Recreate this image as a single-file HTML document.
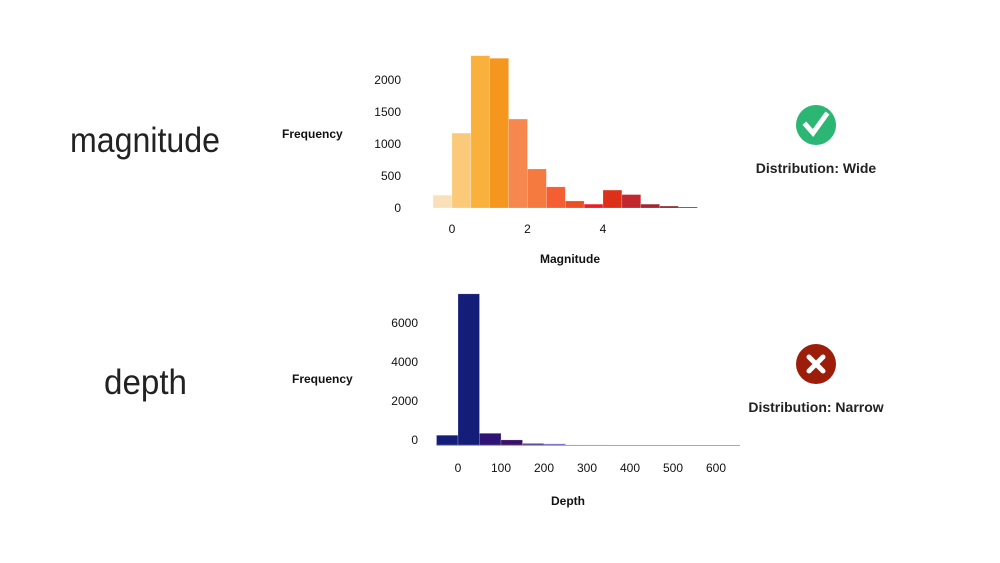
<!DOCTYPE html>
<html><head><meta charset="utf-8"><style>
html,body{margin:0;padding:0;background:#fff;}
svg{display:block;font-family:"Liberation Sans",Arial,sans-serif;}
</style></head><body>
<svg id="s" width="1000" height="563" viewBox="0 0 1000 563" xmlns="http://www.w3.org/2000/svg">
<text x="70" y="152" font-size="35" fill="#222" textLength="150" lengthAdjust="spacingAndGlyphs">magnitude</text>
<text x="104" y="394" font-size="35" fill="#222" textLength="83" lengthAdjust="spacingAndGlyphs">depth</text>
<text x="282" y="138" font-size="12" font-weight="bold" fill="#111">Frequency</text>
<text x="292" y="383" font-size="12" font-weight="bold" fill="#111">Frequency</text>
<text x="570" y="263" font-size="12" font-weight="bold" fill="#111" text-anchor="middle">Magnitude</text>
<text x="568" y="505" font-size="12" font-weight="bold" fill="#111" text-anchor="middle">Depth</text>
<g id="mag"></g>
<g id="dep"></g>
<circle cx="816" cy="125" r="20" fill="#2bb673"/>
<path d="M806 125 L813 133 L826 115" stroke="#fff" stroke-width="5" fill="none" stroke-linecap="square"/>
<text x="816" y="173" font-size="14" font-weight="bold" fill="#222" text-anchor="middle">Distribution: Wide</text>
<circle cx="816" cy="364" r="20" fill="#9b1d0a"/>
<path d="M809 357 L823 371 M823 357 L809 371" stroke="#fff" stroke-width="5" stroke-linecap="round"/>
<text x="816" y="412" font-size="14" font-weight="bold" fill="#222" text-anchor="middle">Distribution:  Narrow</text>
</svg>
<script>
const magBins=[-0.5,0,0.5,1,1.5,2,2.5,3,3.5,4,4.5,5,5.5,6,6.5];
const magCounts=[200,1170,2380,2340,1390,610,330,110,60,280,210,60,30,15];
const magYTicks=[0,500,1000,1500,2000];
const magXTicks=[0,2,4];
const depBins=[-50,0,50,100,150,200,250,300,350,400,450,500,550,600,650];
const depCounts=[500,7750,600,260,80,60,5,3,2,2,2,1,1,1];
const depYTicks=[0,2000,4000,6000];
const depXTicks=[0,100,200,300,400,500,600];
const magColors=["#f9e0b8","#fac97a","#f9b03c","#f5961f","#f6884f","#f57a40","#f45e32","#ee4f22","#ec1c24","#dc3018","#c1272d","#a32530","#8a2228","#7a1f25"];
const depColors=["#141e78","#141e78","#2e1575","#3a1168","#4b3a8a","#6f5fc9","#9a9ac0","#9a9ac0","#9a9ac0","#9a9ac0","#9a9ac0","#9a9ac0","#9a9ac0","#9a9ac0"];
const NS="http://www.w3.org/2000/svg";
function mk(t,a,p){const e=document.createElementNS(NS,t);for(const k in a)e.setAttribute(k,a[k]);p.appendChild(e);return e;}
const mx=v=>452+v*37.75, my=v=>208-v*0.064;
const dx=v=>458+v*0.43, dy=v=>445-v*0.0195;
function draw(g,bins,counts,colors,X,Y,yt,xt,yLabX,yOff,xLabY,axisEnd,pfx){
  for(let i=0;i<counts.length;i++){
    const x0=X(bins[i]),x1=X(bins[i+1]),y=Y(counts[i]);
    const r=mk('rect',{x:x0,y:y,width:x1-x0,height:Y(0)-y,fill:colors[i],stroke:'rgba(255,255,255,0.4)','stroke-width':0.5},g);
    
    
  }
  if(axisEnd){const l=mk('line',{x1:X(bins[0]),x2:axisEnd,y1:Y(0)+0.5,y2:Y(0)+0.5,stroke:'#aaa','stroke-width':1},g);
    
    }
  yt.forEach(v=>{const t=mk('text',{x:yLabX,y:Y(v)+yOff,'font-size':12,'text-anchor':'end',fill:'#111'},g);t.textContent=v;
    
    });
  xt.forEach(v=>{const t=mk('text',{x:X(v),y:xLabY,'font-size':12,'text-anchor':'middle',fill:'#111'},g);t.textContent=v;
    
    });
}
draw(document.getElementById('mag'),magBins,magCounts,magColors,mx,my,magYTicks,magXTicks,401,4,233,0,'mag');
draw(document.getElementById('dep'),depBins,depCounts,depColors,dx,dy,depYTicks,depXTicks,418,-1,472,740,'depth');
</script>
</body></html>
